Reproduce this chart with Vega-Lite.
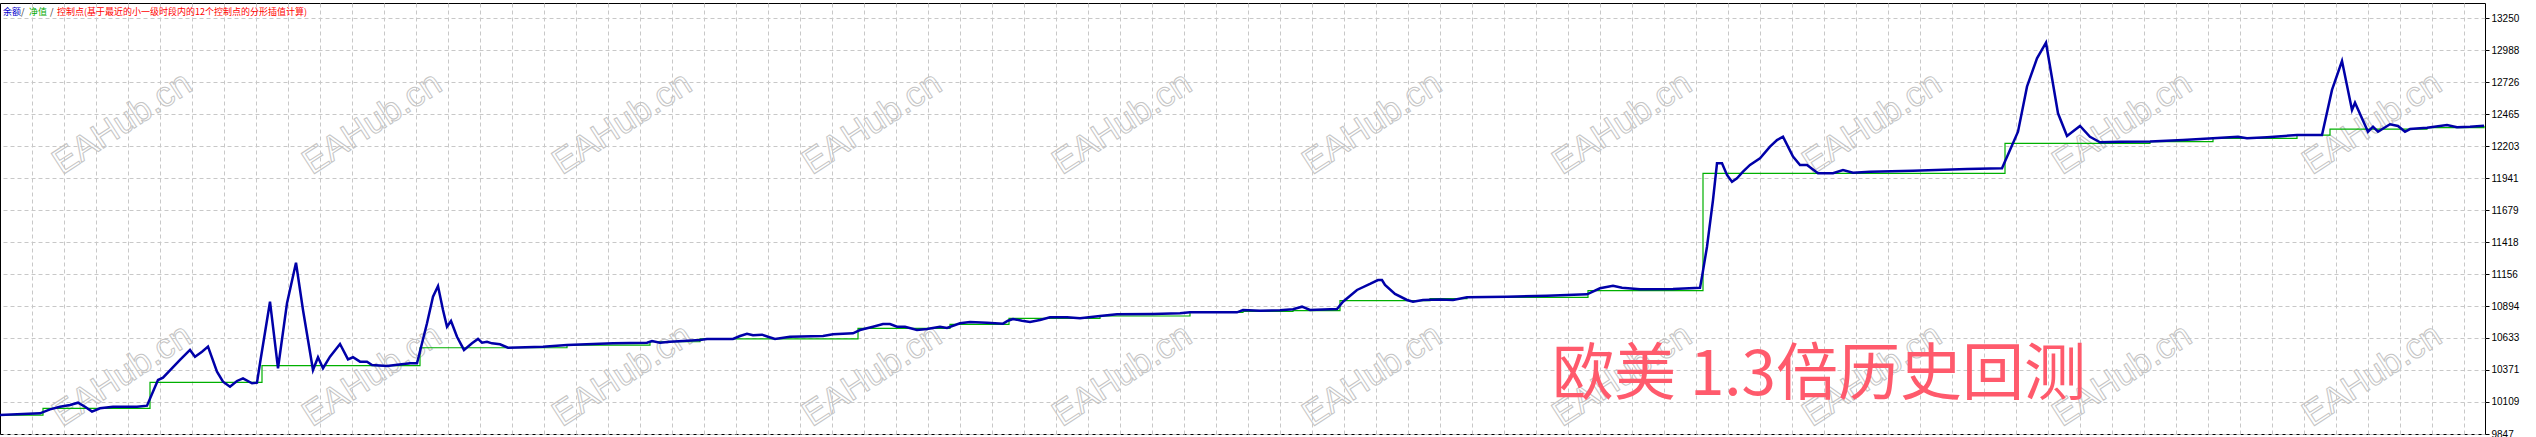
{
  "$schema": "https://vega.github.io/schema/vega-lite/v6.json",
  "width": 2485,
  "height": 431,
  "autosize": {"type": "none"},
  "padding": {"left": 0, "top": 3, "right": 51, "bottom": 3},
  "background": "white",
  "config": {"view": {"stroke": "black", "strokeWidth": 1}},
  "datasets": {
    "balance": [
      {"x":0,"v":10002},{"x":40,"v":10016},{"x":50,"v":10049},{"x":60,"v":10070},{"x":70,"v":10084},{"x":78,"v":10103},{"x":85,"v":10070},{"x":92,"v":10030},{"x":100,"v":10057},{"x":113,"v":10070},{"x":137,"v":10070},{"x":147,"v":10079},{"x":158,"v":10289},{"x":163,"v":10308},{"x":180,"v":10453},{"x":190,"v":10535},{"x":195,"v":10480},{"x":202,"v":10521},{"x":208,"v":10562},{"x":217,"v":10357},{"x":223,"v":10275},{"x":230,"v":10234},{"x":237,"v":10281},{"x":243,"v":10303},{"x":252,"v":10262},{"x":257,"v":10267},{"x":260,"v":10426},{"x":270,"v":10930},{"x":278,"v":10385},{"x":287,"v":10917},{"x":296,"v":11249},{"x":303,"v":10862},{"x":313,"v":10371},{"x":318,"v":10475},{"x":323,"v":10385},{"x":330,"v":10480},{"x":340,"v":10584},{"x":348,"v":10458},{"x":353,"v":10475},{"x":360,"v":10439},{"x":367,"v":10439},{"x":372,"v":10412},{"x":387,"v":10404},{"x":410,"v":10426},{"x":417,"v":10426},{"x":427,"v":10753},{"x":433,"v":10971},{"x":438,"v":11058},{"x":443,"v":10862},{"x":447,"v":10725},{"x":451,"v":10772},{"x":457,"v":10643},{"x":464,"v":10535},{"x":472,"v":10589},{"x":478,"v":10625},{"x":482,"v":10594},{"x":487,"v":10602},{"x":492,"v":10589},{"x":500,"v":10581},{"x":508,"v":10553},{"x":543,"v":10562},{"x":567,"v":10575},{"x":613,"v":10589},{"x":647,"v":10594},{"x":652,"v":10608},{"x":660,"v":10594},{"x":670,"v":10602},{"x":700,"v":10616},{"x":707,"v":10625},{"x":733,"v":10625},{"x":740,"v":10649},{"x":747,"v":10668},{"x":753,"v":10655},{"x":762,"v":10660},{"x":768,"v":10643},{"x":775,"v":10625},{"x":790,"v":10643},{"x":823,"v":10649},{"x":833,"v":10663},{"x":853,"v":10671},{"x":860,"v":10698},{"x":873,"v":10725},{"x":883,"v":10747},{"x":890,"v":10747},{"x":897,"v":10725},{"x":905,"v":10725},{"x":917,"v":10698},{"x":927,"v":10706},{"x":940,"v":10725},{"x":947,"v":10715},{"x":960,"v":10753},{"x":970,"v":10764},{"x":987,"v":10758},{"x":1003,"v":10750},{"x":1008,"v":10774},{"x":1013,"v":10788},{"x":1022,"v":10774},{"x":1030,"v":10764},{"x":1040,"v":10780},{"x":1050,"v":10802},{"x":1067,"v":10802},{"x":1080,"v":10794},{"x":1100,"v":10813},{"x":1117,"v":10827},{"x":1153,"v":10829},{"x":1180,"v":10835},{"x":1190,"v":10843},{"x":1237,"v":10843},{"x":1243,"v":10862},{"x":1260,"v":10856},{"x":1280,"v":10859},{"x":1293,"v":10868},{"x":1302,"v":10889},{"x":1310,"v":10862},{"x":1337,"v":10870},{"x":1343,"v":10930},{"x":1357,"v":11026},{"x":1370,"v":11075},{"x":1378,"v":11107},{"x":1382,"v":11107},{"x":1385,"v":11067},{"x":1395,"v":10993},{"x":1407,"v":10944},{"x":1413,"v":10930},{"x":1423,"v":10944},{"x":1440,"v":10948},{"x":1453,"v":10944},{"x":1467,"v":10966},{"x":1507,"v":10971},{"x":1547,"v":10979},{"x":1567,"v":10985},{"x":1587,"v":10990},{"x":1600,"v":11040},{"x":1613,"v":11061},{"x":1622,"v":11044},{"x":1640,"v":11031},{"x":1673,"v":11034},{"x":1700,"v":11044},{"x":1702,"v":11134},{"x":1707,"v":11380},{"x":1713,"v":11762},{"x":1717,"v":12063},{"x":1722,"v":12063},{"x":1727,"v":11967},{"x":1732,"v":11912},{"x":1737,"v":11940},{"x":1743,"v":11994},{"x":1750,"v":12049},{"x":1760,"v":12104},{"x":1770,"v":12199},{"x":1777,"v":12253},{"x":1783,"v":12280},{"x":1788,"v":12199},{"x":1793,"v":12117},{"x":1800,"v":12049},{"x":1807,"v":12049},{"x":1818,"v":11981},{"x":1833,"v":11981},{"x":1843,"v":12008},{"x":1853,"v":11986},{"x":1870,"v":11994},{"x":1913,"v":12002},{"x":1967,"v":12016},{"x":2002,"v":12022},{"x":2010,"v":12172},{"x":2018,"v":12321},{"x":2027,"v":12690},{"x":2037,"v":12922},{"x":2046,"v":13050},{"x":2058,"v":12472},{"x":2067,"v":12286},{"x":2080,"v":12368},{"x":2090,"v":12280},{"x":2100,"v":12235},{"x":2120,"v":12240},{"x":2150,"v":12242},{"x":2183,"v":12253},{"x":2213,"v":12267},{"x":2238,"v":12280},{"x":2247,"v":12267},{"x":2267,"v":12276},{"x":2297,"v":12294},{"x":2322,"v":12294},{"x":2332,"v":12663},{"x":2342,"v":12900},{"x":2352,"v":12499},{"x":2355,"v":12559},{"x":2368,"v":12321},{"x":2373,"v":12362},{"x":2378,"v":12321},{"x":2390,"v":12382},{"x":2398,"v":12368},{"x":2405,"v":12321},{"x":2410,"v":12343},{"x":2427,"v":12354},{"x":2447,"v":12376},{"x":2457,"v":12357},{"x":2470,"v":12362},{"x":2484,"v":12370}
    ],
    "equity": [
      {"x":0,"v":10002},{"x":43,"v":10057},{"x":150,"v":10270},{"x":262,"v":10406},{"x":420,"v":10553},{"x":567,"v":10575},{"x":650,"v":10602},{"x":700,"v":10625},{"x":858,"v":10712},{"x":950,"v":10745},{"x":1009,"v":10794},{"x":1100,"v":10813},{"x":1190,"v":10843},{"x":1243,"v":10850},{"x":1293,"v":10856},{"x":1340,"v":10938},{"x":1430,"v":10955},{"x":1467,"v":10966},{"x":1588,"v":11020},{"x":1703,"v":11981},{"x":2005,"v":12226},{"x":2150,"v":12240},{"x":2213,"v":12267},{"x":2297,"v":12294},{"x":2330,"v":12343},{"x":2427,"v":12354},{"x":2484,"v":12370}
    ],
    "watermarks": [
      {"x":122,"v":12392},{"x":372,"v":12392},{"x":622,"v":12392},{"x":872,"v":12392},{"x":1122,"v":12392},{"x":1372,"v":12392},{"x":1622,"v":12392},{"x":1872,"v":12392},{"x":2122,"v":12392},{"x":2372,"v":12392},
      {"x":122,"v":10330},{"x":372,"v":10330},{"x":622,"v":10330},{"x":872,"v":10330},{"x":1122,"v":10330},{"x":1372,"v":10330},{"x":1622,"v":10330},{"x":1872,"v":10330},{"x":2122,"v":10330},{"x":2372,"v":10330}
    ]
  },
  "encoding": {
    "x": {"field": "x", "type": "quantitative", "scale": {"domain": [0, 2485], "nice": false, "zero": false},
      "axis": {"values": [32,64,96,128,160,192,224,256,288,320,352,384,416,448,480,512,544,576,608,640,672,704,736,768,800,832,864,896,928,960,992,1024,1056,1088,1120,1152,1184,1216,1248,1280,1312,1344,1376,1408,1440,1472,1504,1536,1568,1600,1632,1664,1696,1728,1760,1792,1824,1856,1888,1920,1952,1984,2016,2048,2080,2112,2144,2176,2208,2240,2272,2304,2336,2368,2400,2432,2464],
        "grid": true, "gridColor": "#c8c8c8", "gridDash": [4, 3], "gridWidth": 1, "domain": false, "ticks": false, "labels": false, "title": null}},
    "y": {"field": "v", "type": "quantitative", "scale": {"domain": [9847, 13374.7], "nice": false, "zero": false},
      "axis": {"orient": "right", "values": [9847,10109,10371,10633,10894,11156,11418,11679,11941,12203,12465,12726,12988,13250],
        "grid": true, "gridColor": "#c8c8c8", "gridDash": [4, 3], "gridWidth": 1, "domain": false, "ticks": true, "tickSize": 4, "tickColor": "black",
        "labelFont": "Liberation Sans", "labelFontSize": 10, "labelColor": "black", "labelPadding": 2, "labelOverlap": false, "labelBound": false, "labelFlush": false, "format": "d", "title": null}}
  },
  "layer": [
    {
      "data": {"name": "watermarks"},
      "mark": {"type": "text", "text": "EAHub.cn", "font": "Liberation Sans", "fontSize": 35, "angle": -33, "align": "center", "baseline": "middle", "fill": "transparent", "stroke": "#c4c4c4", "strokeWidth": 1, "clip": true}
    },
    {
      "data": {"values": [{"x": 1552, "v": 10322}]},
      "mark": {"type": "text", "text": "欧美 1.3倍历史回测", "font": "Noto Sans CJK SC", "fontSize": 62, "align": "left", "baseline": "middle", "color": "#ff5a6c"}
    },
    {
      "data": {"values": [{"x": 3, "v": 13301}]},
      "mark": {"type": "text", "text": "余额", "font": "Noto Sans CJK SC", "fontSize": 9, "align": "left", "baseline": "middle", "color": "#0000cc"}
    },
    {
      "data": {"values": [{"x": 21, "v": 13301}, {"x": 50, "v": 13301}]},
      "mark": {"type": "text", "text": "/", "font": "Noto Sans CJK SC", "fontSize": 9, "align": "left", "baseline": "middle", "color": "#333333"}
    },
    {
      "data": {"values": [{"x": 29, "v": 13301}]},
      "mark": {"type": "text", "text": "净值", "font": "Noto Sans CJK SC", "fontSize": 9, "align": "left", "baseline": "middle", "color": "#00aa00"}
    },
    {
      "data": {"values": [{"x": 57, "v": 13301}]},
      "mark": {"type": "text", "text": "控制点(基于最近的小一级时段内的12个控制点的分形插值计算)", "font": "Noto Sans CJK SC", "fontSize": 9, "align": "left", "baseline": "middle", "color": "#ff0000"}
    },
    {
      "data": {"name": "equity"},
      "mark": {"type": "line", "interpolate": "step-after", "color": "#00b000", "strokeWidth": 1.2}
    },
    {
      "data": {"name": "balance"},
      "mark": {"type": "line", "color": "#0000a8", "strokeWidth": 2.5}
    }
  ]
}
